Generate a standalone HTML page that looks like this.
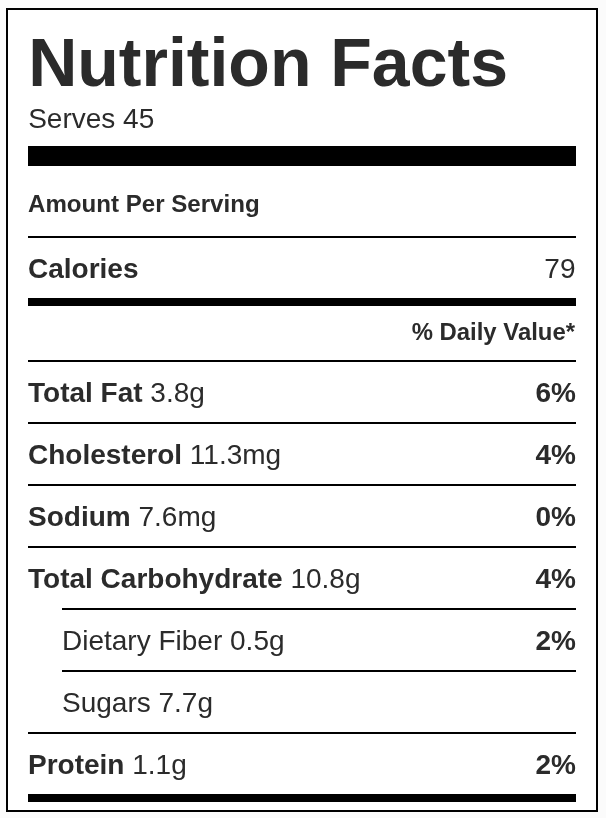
<!DOCTYPE html>
<html><head><meta charset="utf-8"><title>Nutrition Facts</title>
<style>
html,body{margin:0;padding:0;background:#fbfbfb;}
body{width:606px;height:818px;position:relative;overflow:hidden;font-family:"Liberation Sans",Arial,Helvetica,sans-serif;color:#2b2b2b;}
.box{position:absolute;left:6px;top:8px;width:588px;height:800px;border:2px solid #000;background:#fff;}
.t{position:absolute;line-height:1;white-space:nowrap;}
.l{position:absolute;background:#000;}
</style></head><body>
<div class="box"></div>
<div class="t" style="left:28.2px;top:28.24px;font-size:68px;font-weight:bold">Nutrition Facts</div>
<div class="t" style="left:28.2px;top:105.30px;font-size:28px;font-weight:normal">Serves 45</div>
<div class="l" style="left:28px;top:146px;width:548px;height:20px"></div>
<div class="t" style="left:28px;top:192.20px;font-size:24.1px;font-weight:bold">Amount Per Serving</div>
<div class="l" style="left:28px;top:236px;width:548px;height:2px"></div>
<div class="t" style="left:28px;top:255.00px;font-size:28px;font-weight:bold">Calories</div>
<div class="t" style="right:30.5px;top:255.00px;font-size:28px;font-weight:normal">79</div>
<div class="l" style="left:28px;top:298px;width:548px;height:8px"></div>
<div class="t" style="right:31px;top:319.57px;font-size:23.9px;font-weight:bold">% Daily Value*</div>
<div class="l" style="left:28px;top:360px;width:548px;height:2px"></div>
<div class="t" style="left:28px;top:378.95px;font-size:28px;font-weight:normal"><b>Total Fat</b> 3.8g</div>
<div class="t" style="right:30px;top:378.95px;font-size:28px;font-weight:bold">6%</div>
<div class="l" style="left:28px;top:422px;width:548px;height:2px"></div>
<div class="t" style="left:28px;top:440.95px;font-size:28px;font-weight:normal"><b>Cholesterol</b> 11.3mg</div>
<div class="t" style="right:30px;top:440.95px;font-size:28px;font-weight:bold">4%</div>
<div class="l" style="left:28px;top:484px;width:548px;height:2px"></div>
<div class="t" style="left:28px;top:502.95px;font-size:28px;font-weight:normal"><b>Sodium</b> 7.6mg</div>
<div class="t" style="right:30px;top:502.95px;font-size:28px;font-weight:bold">0%</div>
<div class="l" style="left:28px;top:546px;width:548px;height:2px"></div>
<div class="t" style="left:28px;top:564.95px;font-size:28px;font-weight:normal"><b>Total Carbohydrate</b> 10.8g</div>
<div class="t" style="right:30px;top:564.95px;font-size:28px;font-weight:bold">4%</div>
<div class="l" style="left:62px;top:608px;width:514px;height:2px"></div>
<div class="t" style="left:62px;top:626.95px;font-size:28px;font-weight:normal">Dietary Fiber 0.5g</div>
<div class="t" style="right:30px;top:626.95px;font-size:28px;font-weight:bold">2%</div>
<div class="l" style="left:62px;top:670px;width:514px;height:2px"></div>
<div class="t" style="left:62px;top:688.95px;font-size:28px;font-weight:normal">Sugars 7.7g</div>
<div class="l" style="left:28px;top:732px;width:548px;height:2px"></div>
<div class="t" style="left:28px;top:750.95px;font-size:28px;font-weight:normal"><b>Protein</b> 1.1g</div>
<div class="t" style="right:30px;top:750.95px;font-size:28px;font-weight:bold">2%</div>
<div class="l" style="left:28px;top:794px;width:548px;height:8px"></div>
</body></html>
